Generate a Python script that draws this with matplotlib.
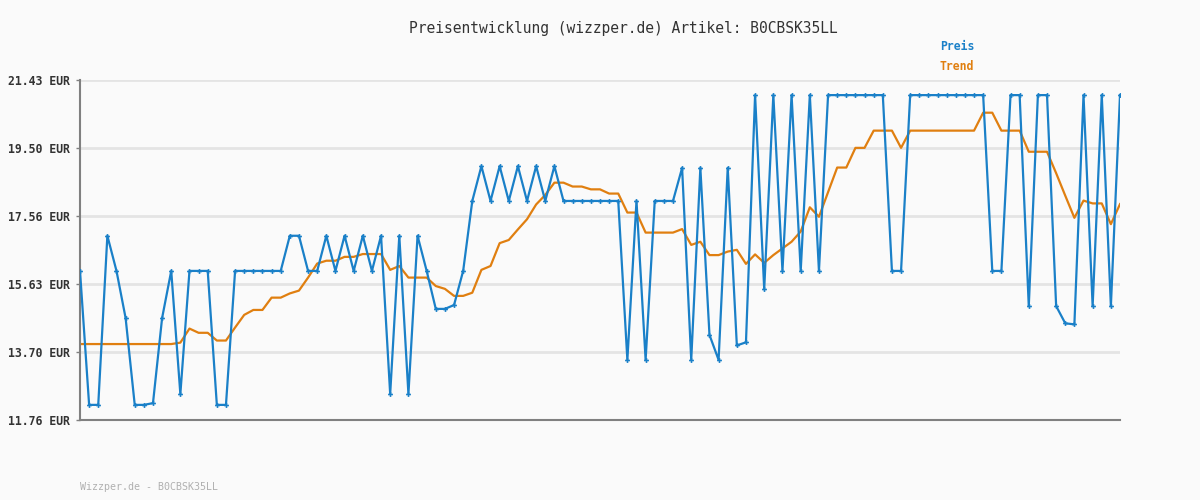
import matplotlib.pyplot as plt
import numpy as np

# Preise je Datenpunkt (EUR)
preis = [16.00, 12.19, 12.19, 17.00, 16.00, 14.66, 12.19, 12.19, 12.24, 14.66,
         16.00, 12.50, 16.00, 16.00, 16.00, 12.19, 12.19, 16.00, 16.00, 16.00,
         16.00, 16.00, 16.00, 17.00, 17.00, 16.00, 16.00, 17.00, 16.00, 17.00,
         16.00, 17.00, 16.00, 17.00, 12.50, 17.00, 12.50, 17.00, 16.00, 14.92,
         14.92, 15.03, 16.00, 17.99, 18.98, 17.99, 18.98, 17.99, 18.98, 17.99,
         18.98, 17.99, 18.98, 17.99, 17.99, 17.99, 17.99, 17.99, 17.99, 17.99,
         13.47, 17.99, 13.47, 17.99, 17.99, 17.99, 18.93, 13.47, 18.93, 14.18,
         13.47, 18.93, 13.88, 13.97, 21.00, 15.48, 21.00, 16.00, 21.00, 16.00,
         21.00, 16.00, 21.00, 21.00, 21.00, 21.00, 21.00, 21.00, 21.00, 16.00,
         16.00, 21.00, 21.00, 21.00, 21.00, 21.00, 21.00, 21.00, 21.00, 21.00,
         16.00, 16.00, 21.00, 21.00, 15.00, 21.00, 21.00, 15.00, 14.51, 14.48,
         21.00, 15.00, 21.00, 15.00, 21.00]

trend = [13.92, 13.92, 13.92, 13.92, 13.92, 13.92, 13.92, 13.92, 13.92, 13.92,
         13.92, 13.96, 14.36, 14.24, 14.24, 14.02, 14.02, 14.39, 14.75, 14.89,
         14.89, 15.24, 15.24, 15.36, 15.44, 15.81, 16.21, 16.29, 16.29, 16.40,
         16.40, 16.48, 16.48, 16.48, 16.03, 16.14, 15.81, 15.81, 15.81, 15.57,
         15.49, 15.29, 15.29, 15.38, 16.03, 16.14, 16.79, 16.88, 17.18, 17.47,
         17.89, 18.16, 18.51, 18.51, 18.40, 18.40, 18.32, 18.32, 18.20, 18.20,
         17.66, 17.66, 17.09, 17.09, 17.09, 17.09, 17.19, 16.74, 16.83, 16.45,
         16.45, 16.55, 16.60, 16.20, 16.47, 16.23, 16.45, 16.64, 16.83, 17.12,
         17.81, 17.54, 18.24, 18.94, 18.94, 19.50, 19.50, 19.99, 19.99, 19.99,
         19.50, 19.99, 19.99, 19.99, 19.99, 19.99, 19.99, 19.99, 19.99, 20.50,
         20.50, 19.99, 19.99, 19.99, 19.39, 19.39, 19.39, 18.78, 18.14, 17.51,
         18.00, 17.92, 17.92, 17.33, 17.90]

y_ticks = [11.76, 13.70, 15.63, 17.56, 19.50, 21.43]
artikel = "B0CBSK35LL"

blau = "#1a80c8"
orange = "#e07f10"
bg = "#fafafa"
mono = "DejaVu Sans Mono"

x = np.arange(len(preis))

fig = plt.figure(figsize=(12, 5), dpi=100, facecolor=bg)
ax = fig.add_axes([80 / 1200, 80 / 500, 1040 / 1200, 340 / 500])
ax.set_facecolor(bg)

for t in y_ticks[1:]:
    ax.axhline(t, color="#e4e4e4", lw=2, zorder=0)

ax.plot(x, preis, color=blau, lw=1.6, marker="P", ms=3.5, mew=0, zorder=3)
ax.plot(x, trend, color=orange, lw=1.6, zorder=2)

ax.set_xlim(0, len(preis) - 1)
ax.set_ylim(y_ticks[0], y_ticks[-1])
ax.set_xticks([])
ax.set_yticks(y_ticks)
ax.set_yticklabels([f"{t:.2f} EUR" for t in y_ticks], fontfamily=mono,
                   fontsize=8.3, fontweight="bold", color="#333333")
ax.tick_params(axis="y", length=3, width=1, color="#808080", pad=4)

for s in ["top", "right"]:
    ax.spines[s].set_visible(False)
for s in ["left", "bottom"]:
    ax.spines[s].set_color("#808080")
    ax.spines[s].set_linewidth(1.5)

fig.text(623 / 1200, 1 - 28 / 500, f"Preisentwicklung (wizzper.de) Artikel: {artikel}",
         ha="center", va="center", fontfamily=mono, fontsize=10.5, color="#333333")
fig.text(940 / 1200, 1 - 47 / 500, "Preis", ha="left", va="center",
         fontfamily=mono, fontsize=8.3, fontweight="bold", color=blau)
fig.text(940 / 1200, 1 - 67 / 500, "Trend", ha="left", va="center",
         fontfamily=mono, fontsize=8.3, fontweight="bold", color=orange)
fig.text(80 / 1200, 1 - 487 / 500, f"Wizzper.de - {artikel}", ha="left", va="center",
         fontfamily=mono, fontsize=7.2, color="#b0b0b0")

fig.savefig("out.png", dpi=100, facecolor=bg)
